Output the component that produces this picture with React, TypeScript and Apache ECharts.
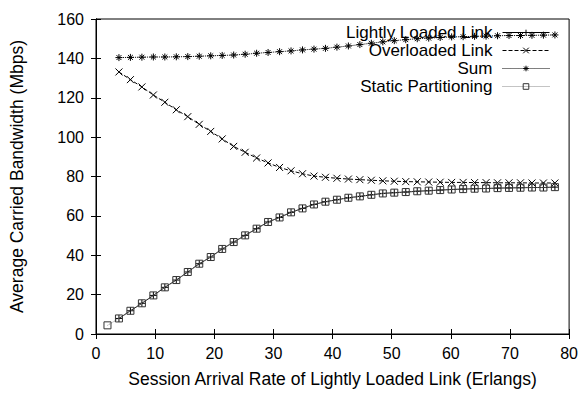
import React, { useEffect, useRef } from "react";
import * as echarts from "echarts";

// Session arrival rate on the lightly loaded link (Erlangs)
const arrivalRate = [
  1.94, 3.88, 5.82, 7.76, 9.7, 11.64, 13.58, 15.52, 17.46, 19.4,
  21.34, 23.28, 25.22, 27.16, 29.1, 31.04, 32.98, 34.92, 36.86, 38.8,
  40.74, 42.68, 44.62, 46.56, 48.5, 50.44, 52.38, 54.32, 56.26, 58.2,
  60.14, 62.08, 64.02, 65.96, 67.9, 69.84, 71.78, 73.72, 75.66, 77.6,
];

// Carried bandwidth (Mbps); the link series start at the second arrival rate
const staticPartitioning = [
  4.4, 7.9, 11.8, 15.6, 19.6, 23.7, 27.4, 31.5, 35.7, 39.1,
  43.2, 46.7, 50.1, 53.5, 56.9, 59.2, 61.8, 63.8, 65.8, 67.2,
  68.2, 69.2, 69.9, 70.7, 71.4, 71.8, 72.1, 72.5, 72.8, 73.1,
  73.4, 73.6, 73.8, 73.9, 74.1, 74.2, 74.3, 74.4, 74.4, 74.6,
];
const lightlyLoaded = [
  7.9, 11.8, 15.6, 19.6, 23.7, 27.4, 31.5, 35.7, 39.1,
  43.2, 46.7, 50.1, 53.5, 56.9, 59.2, 61.8, 63.8, 65.8, 67.2,
  68.2, 69.2, 69.9, 70.7, 71.4, 71.8, 72.1, 72.5, 72.8, 73.1,
  73.4, 73.6, 73.8, 73.9, 74.1, 74.2, 74.3, 74.4, 74.4, 74.6,
];
const overloaded = [
  133.1, 129.2, 125.5, 121.4, 117.7, 113.9, 110.4, 106.5, 102.9,
  99.1, 95.3, 92.3, 89.4, 86.9, 84.6, 82.9, 81.4, 80.2, 79.6,
  79.1, 78.7, 78.4, 78.1, 77.8, 77.6, 77.4, 77.3, 77.2, 77.1,
  77.0, 77.0, 76.9, 76.9, 76.8, 76.8, 76.8, 76.7, 76.7, 76.7,
];
const total = [
  140.4, 140.5, 140.6, 140.7, 140.7, 140.8, 140.9, 141.1, 141.3,
  141.5, 141.7, 142.1, 142.6, 143.0, 143.4, 143.8, 144.3, 144.7, 145.1,
  145.7, 146.3, 147.0, 147.7, 148.4, 149.0, 149.5, 150.0, 150.3, 150.6,
  150.9, 151.0, 151.2, 151.3, 151.5, 151.6, 151.6, 151.7, 151.8, 151.9,
];

const seriesNames = ["Lightly Loaded Link", "Overloaded Link", "Sum", "Static Partitioning"];

const FONT = "'Liberation Sans', Arial, Helvetica, sans-serif";
const TEXT_SIZE = 17.5;
const LEGEND_SIZE = 17;
const TICK_SIZE = 16;

const SYMBOL_PLUS = "path://M0,5L10,5M5,0L5,10";
const SYMBOL_CROSS = "path://M0,0L10,10M10,0L0,10";
const SYMBOL_STAR = "path://M0,5L10,5M5,0L5,10M1.5,1.5L8.5,8.5M8.5,1.5L1.5,8.5";
const SYMBOL_BOX = "path://M0,0L10,0L10,10L0,10Z";

type Dash = "solid" | "dashed" | "dotted";

const styles: { symbol: string; dash: Dash; line: string; mark: string }[] = [
  { symbol: SYMBOL_PLUS, dash: "solid", line: "#000", mark: "#000" },
  { symbol: SYMBOL_CROSS, dash: "dashed", line: "#000", mark: "#000" },
  { symbol: SYMBOL_STAR, dash: "dotted", line: "#000", mark: "#000" },
  { symbol: SYMBOL_BOX, dash: "dotted", line: "#888", mark: "#333" },
];

function pairs(xs: number[], ys: number[], offset: number): number[][] {
  return ys.map((y, i) => [xs[i + offset], y]);
}

function lineSeries(idx: number, data: number[][]) {
  const s = styles[idx];
  return {
    name: seriesNames[idx],
    type: "line",
    data,
    symbol: s.symbol,
    symbolSize: 7,
    showAllSymbol: true,
    z: 3 + idx,
    lineStyle: { color: s.line, width: 1, type: s.dash },
    itemStyle: { color: "transparent", borderColor: s.mark, borderWidth: 1 },
    emphasis: { disabled: true },
  };
}

function legendFor(idx: number, top: number) {
  const s = styles[idx];
  return {
    data: [seriesNames[idx]],
    orient: "vertical",
    right: 31,
    top,
    align: "right",
    padding: 0,
    itemWidth: 47,
    itemHeight: 7,
    selectedMode: false,
    lineStyle: { color: s.line, width: 1, type: s.dash },
    itemStyle: { color: "transparent", borderColor: s.mark, borderWidth: 1 },
    textStyle: {
      fontSize: LEGEND_SIZE,
      color: "#000",
      fontFamily: FONT,
      lineHeight: 17,
      padding: [0, 5, 0, 0],
    },
  };
}

export default function App() {
  const ref = useRef<HTMLDivElement>(null);

  useEffect(() => {
    if (!ref.current) return;
    const chart = echarts.init(ref.current, undefined, { renderer: "svg" });

    const tickAxis = {
      min: 0,
      axisLine: { show: true, lineStyle: { color: "#000", width: 1 } },
      axisTick: { show: true, inside: true, length: 5, lineStyle: { color: "#000" } },
      splitLine: { show: false },
    };

    chart.setOption({
      animation: false,
      backgroundColor: "#fff",
      textStyle: { fontFamily: FONT },
      grid: {
        left: 87,
        right: 10,
        top: 19,
        bottom: 45,
        show: true,
        borderColor: "#000",
        borderWidth: 1,
        backgroundColor: "transparent",
      },
      legend: seriesNames.map((_, i) => legendFor(i, 24 + i * 18)),
      xAxis: [
        {
          ...tickAxis,
          type: "value",
          max: 80,
          interval: 10,
          position: "bottom",
          name: "Session Arrival Rate of Lightly Loaded Link (Erlangs)",
          nameLocation: "middle",
          nameGap: 36,
          nameTextStyle: { fontSize: TEXT_SIZE, color: "#000", fontFamily: FONT },
          axisLabel: { fontSize: TICK_SIZE, color: "#000", margin: 11, fontFamily: FONT },
        },
        {
          ...tickAxis,
          type: "value",
          max: 80,
          interval: 10,
          position: "top",
          axisLabel: { show: false },
        },
      ],
      yAxis: [
        {
          ...tickAxis,
          type: "value",
          max: 160,
          interval: 20,
          position: "left",
          name: "Average Carried Bandwidth (Mbps)",
          nameLocation: "middle",
          nameGap: 70,
          nameRotate: 90,
          nameTextStyle: { fontSize: TEXT_SIZE, color: "#000", fontFamily: FONT },
          axisLabel: { fontSize: TICK_SIZE, color: "#000", margin: 12, fontFamily: FONT },
        },
        {
          ...tickAxis,
          type: "value",
          max: 160,
          interval: 20,
          position: "right",
          axisLabel: { show: false },
        },
      ],
      series: [
        lineSeries(0, pairs(arrivalRate, lightlyLoaded, 1)),
        lineSeries(1, pairs(arrivalRate, overloaded, 1)),
        lineSeries(2, pairs(arrivalRate, total, 1)),
        lineSeries(3, pairs(arrivalRate, staticPartitioning, 0)),
      ],
    });

    return () => chart.dispose();
  }, []);

  return (
    <div
      ref={ref}
      style={{ position: "fixed", left: 0, top: 0, width: 581, height: 393, background: "#fff" }}
    />
  );
}
